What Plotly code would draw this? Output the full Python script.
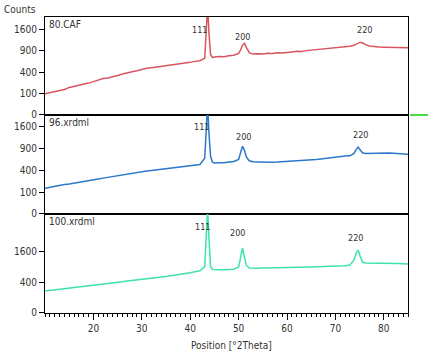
import numpy as np
import plotly.graph_objects as go

# ---------------- data ----------------
two_theta = (list(range(10, 43)) +
             [43.0, 43.3, 43.6, 43.9, 44.2, 44.6] +
             list(range(45, 50)) +
             [50.0, 50.4, 50.8, 51.2, 51.6, 52.2] +
             list(range(53, 73)) +
             [73.0, 73.8, 74.3, 74.7, 75.1, 75.6, 76.2] +
             list(range(77, 86)))

counts_80 = ([98, 108, 122, 132, 142, 166, 178, 200, 212, 222, 243, 265, 290, 300, 316, 342, 366,
              392, 410, 426, 454, 478, 488, 500, 512, 529, 548, 566, 572, 584, 605, 628, 645] +
             [700, 1500, 2600, 1400, 800, 720] +
             [735, 748, 742, 768, 780] +
             [830, 920, 1060, 1120, 1000, 850] +
             [810, 822, 812, 830, 826, 845, 840, 862, 868, 885, 880, 905, 918, 944, 950, 975,
              982, 1005, 1000, 1022] +
             [1030, 1060, 1090, 1120, 1150, 1140, 1080] +
             [1040, 1020, 1012, 1005, 998, 1004, 988, 992, 985])

counts_96 = ([139, 150, 158, 172, 180, 188, 200, 212, 222, 232, 243, 255, 268, 280, 292, 306, 324,
              332, 345, 358, 380, 384, 394, 404, 414, 424, 436, 444, 460, 470, 484, 498, 511] +
             [650, 1400, 2500, 1300, 700, 560] +
             [540, 548, 546, 562, 575] +
             [620, 780, 955, 850, 680, 590] +
             [570, 566, 560, 555, 560, 562, 568, 572, 576, 580, 585, 596, 604, 618, 630, 646,
              658, 672, 684, 700] +
             [705, 760, 870, 930, 860, 780, 762] +
             [765, 772, 768, 780, 776, 768, 762, 758, 745])

counts_100 = ([202, 212, 222, 235, 243, 253, 265, 275, 290, 300, 313, 326, 340, 355, 370, 384, 405,
               428, 441, 452, 467, 485, 500, 520, 540, 557, 580, 600, 625, 650, 676, 710, 745] +
              [900, 2500, 4500, 2200, 900, 790] +
              [780, 775, 782, 790, 800] +
              [880, 1300, 1760, 1300, 950, 840] +
              [830, 835, 840, 842, 845, 850, 855, 860, 866, 870, 875, 880, 886, 890, 895, 900,
               906, 910, 920, 930] +
              [960, 1150, 1500, 1650, 1350, 1080, 1040] +
              [1040, 1035, 1032, 1030, 1028, 1022, 1018, 1008, 1000])

sample_names = ["80.CAF", "96.xrdml", "100.xrdml"]
peak_labels = ["111", "200", "220"]
y_ticks_upper = [0, 100, 400, 900, 1600]
y_ticks_lower = [0, 400, 1600]
x_ticks = [20, 30, 40, 50, 60, 70, 80]

# ---------------- figure ----------------
FONT = "DejaVu Sans Condensed, Liberation Sans Narrow, Arial Narrow, Liberation Sans, sans-serif"
TXT = "#333"
colors = ["#d9545e", "#2a78cc", "#3ee3aa"]
series = [counts_80, counts_96, counts_100]
axes = [("x", "y"), ("x2", "y2"), ("x3", "y3")]

fig = go.Figure()
for (xa, ya), vals, col in zip(axes, series, colors):
    fig.add_trace(go.Scatter(x=two_theta, y=np.sqrt(np.array(vals, dtype=float)),
                             mode="lines", line=dict(color=col, width=1.5),
                             xaxis=xa, yaxis=ya, showlegend=False, hoverinfo="skip"))

domains = [[0.669, 1.0], [0.3345, 0.669], [0.0, 0.3345]]
yranges = [[0, 45.8], [0, 45.2], [0, 63.9]]

axis_common = dict(showline=True, mirror=True, linecolor="black", linewidth=1,
                   showgrid=False, zeroline=False)

layout = dict(width=428, height=358, margin=dict(l=45, r=20, t=17, b=45),
              plot_bgcolor="white", paper_bgcolor="white",
              font=dict(family=FONT, size=10, color=TXT))

for i in range(3):
    sfx = "" if i == 0 else str(i + 1)
    ticks_y = y_ticks_upper if i < 2 else y_ticks_lower
    layout["yaxis" + sfx] = dict(axis_common, domain=domains[i], range=yranges[i],
                                 anchor="x" + sfx,
                                 tickvals=list(np.sqrt(ticks_y)), ticktext=[str(t) for t in ticks_y],
                                 ticks="outside", ticklen=5, tickcolor="black",
                                 tickfont=dict(family=FONT, size=10, color=TXT))
    xd = dict(axis_common, range=[10, 85], anchor="y" + sfx)
    if i < 2:
        xd.update(showticklabels=False, ticks="")
    else:
        xd.update(tickvals=x_ticks, ticks="outside", ticklen=6, tickcolor="black",
                  tickfont=dict(family=FONT, size=10, color=TXT),
                  minor=dict(dtick=1, tick0=0, ticks="outside", ticklen=3, tickcolor="black"))
    layout["xaxis" + sfx] = xd

fig.update_layout(**layout)

# sample names
for i, name in enumerate(sample_names):
    sfx = "" if i == 0 else str(i + 1)
    fig.add_annotation(text=name, xref="x" + sfx + " domain", yref="y" + sfx + " domain",
                       x=0.005, y=1.0, xanchor="left", yanchor="top", showarrow=False,
                       font=dict(family=FONT, size=10, color=TXT))

# peak labels (x in degrees, y in sqrt-count units)
label_pos = [
    [(42.0, 39.5), (50.8, 36.3), (76.0, 39.5)],
    [(42.3, 39.5), (51.0, 35.0), (75.2, 35.9)],
    [(42.5, 55.5), (49.8, 51.6), (74.1, 48.4)],
]
for i, poss in enumerate(label_pos):
    sfx = "" if i == 0 else str(i + 1)
    for lab, (px, py) in zip(peak_labels, poss):
        fig.add_annotation(text=lab, x=px, y=py, xref="x" + sfx, yref="y" + sfx,
                           showarrow=False, font=dict(family=FONT, size=9, color=TXT))

fig.add_annotation(text="Counts", xref="paper", yref="paper", x=-0.118, y=1.024,
                   xanchor="left", yanchor="middle", showarrow=False,
                   font=dict(family=FONT, size=10, color=TXT))
fig.add_annotation(text="Position [°2Theta]", xref="paper", yref="paper", x=0.515, y=-0.111,
                   xanchor="center", yanchor="middle", showarrow=False,
                   font=dict(family=FONT, size=10, color=TXT))

fig.add_shape(type="line", xref="paper", yref="paper", x0=1.006, x1=1.06, y0=0.669, y1=0.669,
              line=dict(color="#44dd44", width=2))

fig.write_html("out.html")
